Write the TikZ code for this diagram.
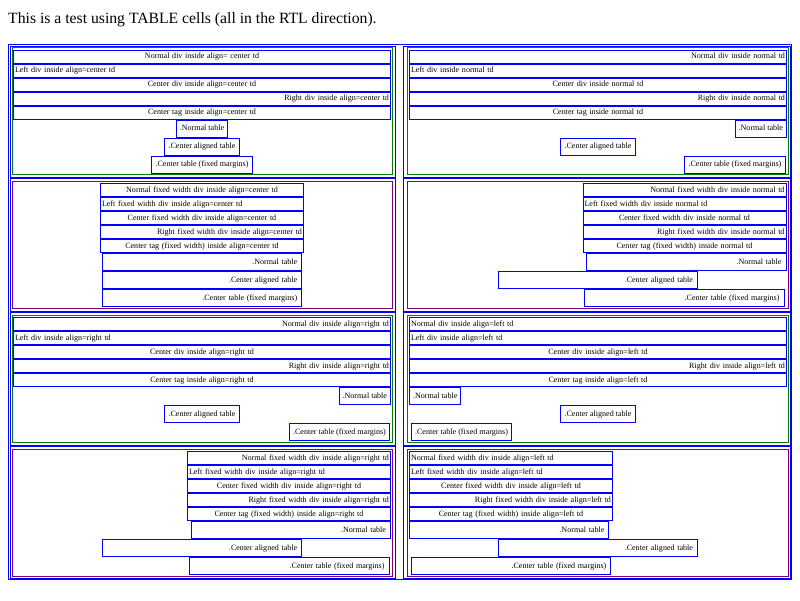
\documentclass[tikz,border=0pt]{standalone}
\usepackage{fontspec}
\setmainfont{Liberation Serif}
\usetikzlibrary{positioning}
\definecolor{tdgreen}{HTML}{008000}
\definecolor{tdpurple}{HTML}{800080}
\newcommand{\tdfont}{\fontsize{8.05}{9}\selectfont}
\newcommand{\headfont}{\fontsize{15.7}{18}\selectfont}

\begin{document}
\begin{tikzpicture}[x=1pt, y=-1pt,
    % borders of the outer table, its cells and the coloured boxes
    tdline/.style={draw=blue, line width=1pt},
    gline/.style={draw=tdgreen, line width=1pt},
    pline/.style={draw=tdpurple, line width=1pt},
    % blue divs (full width and fixed width)
    sdiv/.style={draw=blue, line width=1pt, minimum height=13pt, inner xsep=1.5pt, inner ysep=0pt, font=\tdfont, text height=6.5pt, text depth=1.9pt},
    wdiv/.style={sdiv, text width=374pt},
    fdiv/.style={sdiv, text width=200pt},
    % small tables (natural width) and fixed width tables
    stbl/.style={draw=blue, line width=1pt, minimum height=17pt, inner xsep=3.6pt, inner ysep=0pt, font=\tdfont, text height=6.5pt, text depth=1.9pt},
    ftbl/.style={stbl, inner xsep=4.5pt, text width=190.4pt, align=right}]

\path[use as bounding box, fill=white] (0,0) rectangle (800,600);

\node[font=\headfont, anchor=base west, inner sep=0pt] (title) at (8,23) {This is a test using TABLE cells (all in the RTL direction).};

% Outer table and its cells
\draw[tdline] (8,44) rectangle (791.5,579.5);
\draw[tdline] (10.5,46) rectangle (395.5,177.5);
\draw[tdline] (403.5,46) rectangle (790.5,177.5);
\draw[tdline] (10.5,178.5) rectangle (395.5,311.5);
\draw[tdline] (403.5,178.5) rectangle (790.5,311.5);
\draw[tdline] (10.5,312.5) rectangle (395.5,445.5);
\draw[tdline] (403.5,312.5) rectangle (790.5,445.5);
\draw[tdline] (10.5,446.5) rectangle (395.5,578.5);
\draw[tdline] (403.5,446.5) rectangle (790.5,578.5);

% Coloured boxes inside the cells
\draw[gline] (12,47.5) rectangle (392.5,174.5);
\draw[gline] (407,47.5) rectangle (788.5,174.5);
\draw[pline] (12,181.5) rectangle (392.5,308);
\draw[pline] (407,181.5) rectangle (788.5,308);
\draw[gline] (12,315.5) rectangle (392.5,442.5);
\draw[gline] (407,315.5) rectangle (788.5,442.5);
\draw[pline] (12,449.5) rectangle (392.5,576);
\draw[pline] (407,449.5) rectangle (788.5,576);

% Row 1, left: align=center td
\node[wdiv, align=center, anchor=north west] (c1d1) at (13,49.5) {Normal div inside align= center td};
\node[wdiv, align=left, below=0pt of c1d1] (c1d2) {Left div inside align=center td};
\node[wdiv, align=center, below=0pt of c1d2] (c1d3) {Center div inside align=center td};
\node[wdiv, align=right, below=0pt of c1d3] (c1d4) {Right div inside align=center td};
\node[wdiv, align=center, below=0pt of c1d4] (c1d5) {Center tag inside align=center td};
\node[stbl, below=0pt of c1d5] (c1nt) {.Normal table};
\node[stbl, below=0pt of c1nt] (c1ca) {.Center aligned table};
\node[stbl, below=0pt of c1ca] (c1fm) {.Center table (fixed margins)};

% Row 1, right: normal td
\node[wdiv, align=right, anchor=north west] (c2d1) at (409,49.5) {Normal div inside normal td};
\node[wdiv, align=left, below=0pt of c2d1] (c2d2) {Left div inside normal td};
\node[wdiv, align=center, below=0pt of c2d2] (c2d3) {Center div inside normal td};
\node[wdiv, align=right, below=0pt of c2d3] (c2d4) {Right div inside normal td};
\node[wdiv, align=center, below=0pt of c2d4] (c2d5) {Center tag inside normal td};
\node[stbl, below left=0pt of c2d5.south east] (c2nt) {.Normal table};
\node[stbl, anchor=north] (c2ca) at (c2nt.south -| c2d5) {.Center aligned table};
\node[stbl, anchor=north east, xshift=-1.5pt] (c2fm) at (c2ca.south -| c2d5.east) {.Center table (fixed margins)};

% Row 2, left: fixed width, align=center td
\node[fdiv, align=center, anchor=north west] (c3d1) at (100,183) {Normal fixed width div inside align=center td};
\node[fdiv, align=left, below=0pt of c3d1] (c3d2) {Left fixed width div inside align=center td};
\node[fdiv, align=center, below=0pt of c3d2] (c3d3) {Center fixed width div inside align=center td};
\node[fdiv, align=right, below=0pt of c3d3] (c3d4) {Right fixed width div inside align=center td};
\node[fdiv, align=center, below=0pt of c3d4] (c3d5) {Center tag (fixed width) inside align=center td};
\node[ftbl, below=0pt of c3d5] (c3nt) {.Normal table};
\node[ftbl, below=0pt of c3nt] (c3ca) {.Center aligned table};
\node[ftbl, below=0pt of c3ca] (c3fm) {.Center table (fixed margins)};

% Row 2, right: fixed width, normal td
\node[fdiv, align=right, anchor=north west] (c4d1) at (582.5,183) {Normal fixed width div inside normal td};
\node[fdiv, align=left, below=0pt of c4d1] (c4d2) {Left fixed width div inside normal td};
\node[fdiv, align=center, below=0pt of c4d2] (c4d3) {Center fixed width div inside normal td};
\node[fdiv, align=right, below=0pt of c4d3] (c4d4) {Right fixed width div inside normal td};
\node[fdiv, align=center, below=0pt of c4d4] (c4d5) {Center tag (fixed width) inside normal td};
\coordinate (c4m) at (597.75,181.5);
\node[ftbl, below left=0pt of c4d5.south east] (c4nt) {.Normal table};
\node[ftbl, anchor=north] (c4ca) at (c4nt.south -| c4m) {.Center aligned table};
\node[ftbl, anchor=north east, xshift=-2pt] (c4fm) at (c4ca.south -| c4d5.east) {.Center table (fixed margins)};

% Row 3, left: align=right td
\node[wdiv, align=right, anchor=north west] (c5d1) at (13,317) {Normal div inside align=right td};
\node[wdiv, align=left, below=0pt of c5d1] (c5d2) {Left div inside align=right td};
\node[wdiv, align=center, below=0pt of c5d2] (c5d3) {Center div inside align=right td};
\node[wdiv, align=right, below=0pt of c5d3] (c5d4) {Right div inside align=right td};
\node[wdiv, align=center, below=0pt of c5d4] (c5d5) {Center tag inside align=right td};
\node[stbl, below left=0pt of c5d5.south east] (c5nt) {.Normal table};
\node[stbl, anchor=north] (c5ca) at (c5nt.south -| c5d5) {.Center aligned table};
\node[stbl, anchor=north east, xshift=-1pt] (c5fm) at (c5ca.south -| c5d5.east) {.Center table (fixed margins)};

% Row 3, right: align=left td
\node[wdiv, align=left, anchor=north west] (c6d1) at (409,317) {Normal div inside align=left td};
\node[wdiv, align=left, below=0pt of c6d1] (c6d2) {Left div inside align=left td};
\node[wdiv, align=center, below=0pt of c6d2] (c6d3) {Center div inside align=left td};
\node[wdiv, align=right, below=0pt of c6d3] (c6d4) {Right div inside align=left td};
\node[wdiv, align=center, below=0pt of c6d4] (c6d5) {Center tag inside align=left td};
\node[stbl, below right=0pt of c6d5.south west] (c6nt) {.Normal table};
\node[stbl, anchor=north] (c6ca) at (c6nt.south -| c6d5) {.Center aligned table};
\node[stbl, anchor=north west, xshift=2pt] (c6fm) at (c6ca.south -| c6d5.west) {.Center table (fixed margins)};

% Row 4, left: fixed width, align=right td
\node[fdiv, align=right, anchor=north west] (c7d1) at (187,451) {Normal fixed width div inside align=right td};
\node[fdiv, align=left, below=0pt of c7d1] (c7d2) {Left fixed width div inside align=right td};
\node[fdiv, align=center, below=0pt of c7d2] (c7d3) {Center fixed width div inside align=right td};
\node[fdiv, align=right, below=0pt of c7d3] (c7d4) {Right fixed width div inside align=right td};
\node[fdiv, align=center, below=0pt of c7d4] (c7d5) {Center tag (fixed width) inside align=right td};
\coordinate (c7m) at (202,449.5);
\node[ftbl, below left=0pt of c7d5.south east] (c7nt) {.Normal table};
\node[ftbl, anchor=north] (c7ca) at (c7nt.south -| c7m) {.Center aligned table};
\node[ftbl, anchor=north east, xshift=-1.5pt] (c7fm) at (c7ca.south -| c7d5.east) {.Center table (fixed margins)};

% Row 4, right: fixed width, align=left td
\node[fdiv, align=left, anchor=north west] (c8d1) at (409,451) {Normal fixed width div inside align=left td};
\node[fdiv, align=left, below=0pt of c8d1] (c8d2) {Left fixed width div inside align=left td};
\node[fdiv, align=center, below=0pt of c8d2] (c8d3) {Center fixed width div inside align=left td};
\node[fdiv, align=right, below=0pt of c8d3] (c8d4) {Right fixed width div inside align=left td};
\node[fdiv, align=center, below=0pt of c8d4] (c8d5) {Center tag (fixed width) inside align=left td};
\coordinate (c8m) at (597.75,449.5);
\node[ftbl, below right=0pt of c8d5.south west] (c8nt) {.Normal table};
\node[ftbl, anchor=north] (c8ca) at (c8nt.south -| c8m) {.Center aligned table};
\node[ftbl, anchor=north west, xshift=2pt] (c8fm) at (c8ca.south -| c8d5.west) {.Center table (fixed margins)};

\end{tikzpicture}
\end{document}
